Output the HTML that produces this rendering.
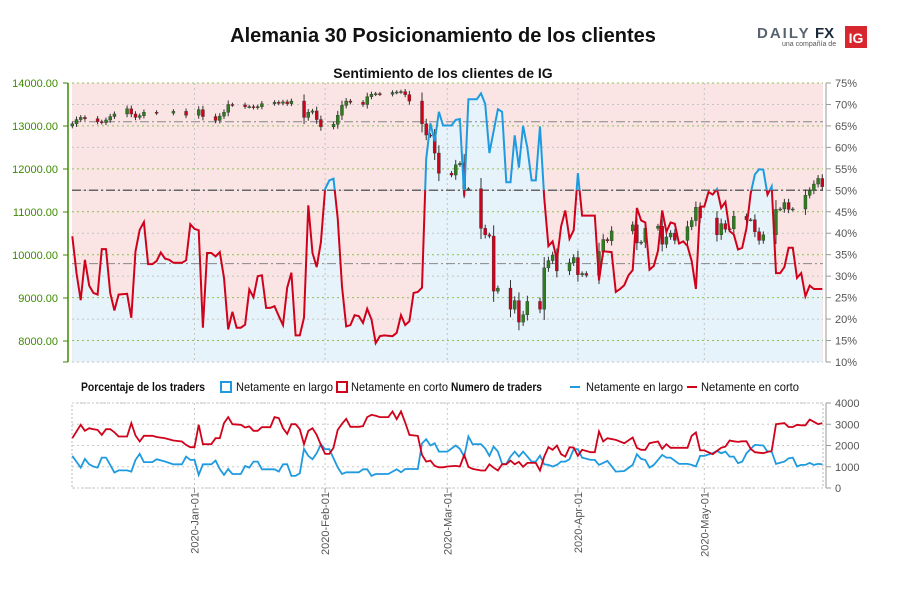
<!DOCTYPE html>
<html><head><meta charset="utf-8">
<style>
body{margin:0;background:#fff;}
svg{display:block;font-family:"Liberation Sans",sans-serif;}
</style></head>
<body>
<svg id="chart" width="900" height="600" viewBox="0 0 900 600">
<text x="443" y="42" text-anchor="middle" font-size="20" font-weight="bold" fill="#111">Alemania 30 Posicionamiento de los clientes</text>
<g>
<text x="757" y="38" font-size="15" font-weight="bold" fill="#5a6470" letter-spacing="2">DAILY</text>
<text x="815" y="38" font-size="15" font-weight="bold" fill="#1a2a3a">FX</text>
<text x="782" y="46" font-size="7" fill="#555">una compañía de</text>
<rect x="845" y="26" width="22" height="22" fill="#d8262e"/>
<text x="856" y="43" text-anchor="middle" font-size="14" font-weight="bold" fill="#fff">IG</text>
</g>
<text x="443" y="78" text-anchor="middle" font-size="14" font-weight="bold" fill="#111">Sentimiento de los clientes de IG</text>
<g id="main"></g>
<g id="legend">
<text x="81" y="391" font-size="12" font-weight="bold" fill="#111" textLength="124" lengthAdjust="spacingAndGlyphs">Porcentaje de los traders</text>
<rect x="221" y="382" width="10" height="10" fill="#fff" stroke="#1e9be0" stroke-width="2"/>
<text x="236" y="391" font-size="12" fill="#111" textLength="97" lengthAdjust="spacingAndGlyphs">Netamente en largo</text>
<rect x="337" y="382" width="10" height="10" fill="#fff" stroke="#d0021b" stroke-width="2"/>
<text x="351" y="391" font-size="12" fill="#111" textLength="97" lengthAdjust="spacingAndGlyphs">Netamente en corto</text>
<text x="451" y="391" font-size="12" font-weight="bold" fill="#111" textLength="91" lengthAdjust="spacingAndGlyphs">Numero de traders</text>
<line x1="570" y1="387" x2="580" y2="387" stroke="#1e9be0" stroke-width="2"/>
<text x="586" y="391" font-size="12" fill="#111" textLength="97" lengthAdjust="spacingAndGlyphs">Netamente en largo</text>
<line x1="687" y1="387" x2="697" y2="387" stroke="#d0021b" stroke-width="2"/>
<text x="701" y="391" font-size="12" fill="#111" textLength="98" lengthAdjust="spacingAndGlyphs">Netamente en corto</text>
</g>
<g id="lower"></g>
</svg>
<script>
// ---- data ----
const sentDays=[0,1,2,3,4,5,6,7,8,9,10,11,13,14,15,16,17,18,19,20,21,22,23,24,26,27,28,29,30,31,32,33,34,35,36,37,38,39,40,41,42,43,44,45,46,47,48,49,50,51,52,53,54,55,56,57,58,59,60,61,62,63,64,65,66,67,68,69,70,71,72,73,74,76,77,78,79,80,81,82,83,84,85,86,87,88,90,91,92,93,94,96,97,98,99,101,102,103,104,105,106,107,108,109,110,111,112,113,114,115,116,117,118,119,120,121,122,124,125,126,128,129,130,131,132,133,134,135,136,137,138,139,140,141,142,143,144,145,146,147,148,149,150,151,152,153,154,155,156,157,158,159,160,161,162,163,164,165,166,167,168,169,170,171,172,173,174,175,176,178];
const sentLong=[39.3,30.7,24.4,33.8,27.8,26.1,25.7,36.3,36.3,26.1,22,25.7,25.9,20.3,35.8,40.8,42.6,32.8,32.8,33.5,35.5,34.1,33.8,33.1,33.1,33.7,42.1,41,40.7,18,35.4,35.4,34.6,35.6,29.6,17.6,21.7,18,18,18.7,26.9,25.1,30,30.2,22.6,22.6,23,20.7,18.6,27.3,30.8,16.2,16.2,20.3,46.5,35.4,32.1,37.9,50.3,52.3,52.7,43.5,27.6,18.3,18.6,20.9,20.7,19.1,22.4,19.9,14.4,16,16.2,16,16.8,20.9,18.6,19.5,26.1,26.3,27.3,57.3,65.6,61.4,68.3,65.1,65.1,66.4,66.6,48.6,71.2,71.2,72.6,70.1,58.7,68.9,68.3,51.9,51.9,62.8,55.3,65,59.8,52.3,52.3,64.9,48.3,37,38.1,33.8,41.6,45.3,38.7,40.7,54,44.1,44.1,44.1,29,35.8,35.6,26.3,27,27.9,30.2,31.4,45.9,43,42.5,31.5,32.4,35.9,45.3,40.3,42.5,42.2,37.6,38.1,37,33.5,27,46.2,46.2,49.6,49,50.3,45.9,47.3,40.5,39.7,36.2,36.6,41.2,49.3,53.7,54.9,54.8,49,50.9,30.7,30.7,32.1,36.6,36.6,29.6,30.7,25.3,27.8,27,27];
const decCloses=[13050,13150,13200,13170,13100,13080,13140,13220,13280,13400,13280,13200,13240,13320,13300,13340,13250];
const janCloses=[13380,13220,13130,13230,13320,13500,13490,13450,13450,13430,13450,13520,13550,13530,13560,13520,13580,13200,13320,13350,13150,12980];
const febCloses=[13040,13250,13480,13580,13550,13500,13680,13740,13750,13740,13780,13790,13800,13730,13580,13050,12790,12770,12370,11900];
const marCloses=[11860,12100,12130,11540,11540,10620,10470,10440,9160,9230,8740,8940,8440,8610,8920,8740,9700,9870,10000,9630,9820,9940];
const aprCloses=[9540,9570,9530,10080,10360,10330,10560,10700,10280,10300,10620,10670,10250,10420,10510,10340,10660,10800,11110,10860];
const mayCloses=[10470,10730,10600,10610,10900,10820,10820,10540,10340,10470,11060,11070,11220,11060,11070,11390,11500,11650,11780,11590];
const holidays=[21,22,23,28,29,129,132,150];
const cntDays=[0,2,3,4,5,6,7,8,9,10,11,13,14,15,16,17,19,20,22,24,26,27,28,29,30,31,33,34,35,36,37,38,40,41,42,43,44,45,47,48,49,50,51,52,53,54,55,56,57,58,59,60,61,62,63,64,65,66,68,69,70,71,72,73,75,76,77,78,79,80,82,83,84,85,86,87,88,89,91,92,93,94,95,97,98,99,100,101,102,103,104,105,106,107,108,109,110,111,112,113,114,115,116,117,118,119,120,121,123,124,125,126,127,129,131,133,134,135,136,137,138,139,140,141,142,144,146,147,148,149,150,152,153,154,155,156,157,158,159,160,161,162,164,165,166,167,169,170,171,172,173,174,175,176,177,178];
const cntLong=[1510,958,1370,1117,1010,958,1432,1432,1086,723,830,830,770,1322,1604,1218,1218,1353,1245,1117,1117,1480,1322,1322,615,1117,1117,1290,895,615,895,660,660,1033,958,1243,1243,880,880,880,770,1117,1117,569,569,690,1840,1510,1353,1636,2062,1825,1825,1400,975,660,740,740,740,880,880,569,660,660,660,770,880,740,895,895,895,2100,2297,1998,2110,1715,1715,1715,1998,1840,1480,2423,2062,2062,1857,1510,1951,1715,1133,1133,1480,1715,1480,1715,1480,1243,1243,1526,1117,1086,1010,1086,1243,1243,1353,1825,1825,1432,1322,1322,1086,1180,1275,770,800,1086,1589,1370,1322,958,1086,1322,1557,1432,1432,1133,1133,1086,1010,1510,1510,1636,1746,1636,1715,1480,1480,1165,1243,1636,1840,2030,2000,1715,1715,1133,1243,1400,1432,1010,1086,1086,1180,1086,1133,1117];
const cntShort=[2345,2973,2690,2815,2765,2736,2500,2765,2765,2620,2422,2422,3052,2470,2187,2457,2457,2400,2345,2235,2187,2030,1920,1920,2973,2062,2062,2345,2345,3052,3336,3004,2973,2847,2900,2690,2690,2860,2860,3336,3289,2815,2548,3004,3004,2765,2062,2690,2815,2500,2030,1605,1605,1895,2736,3020,3257,2880,2880,2910,3336,3446,3400,3336,3336,3603,3242,3603,3084,2500,2450,1557,1242,1290,1038,975,975,1010,1038,1010,1557,1000,900,825,825,1117,955,825,1117,1117,1290,1117,1227,1000,1180,1180,1180,825,1480,1920,1800,1998,1589,1480,1920,1900,1510,1800,1683,1683,2658,2187,2343,2265,2110,2375,1890,1800,1800,2110,2150,2187,1840,2062,1890,1890,1890,2457,2610,1770,1770,1589,1746,1890,1950,2235,2200,2170,2200,2200,1840,1683,1636,1700,1750,3004,3052,2870,2870,2973,2950,2950,3225,3115,3004,3052];
const pctTicks=[75,70,65,60,55,50,45,40,35,30,25,20,15,10];
const priceTicks=[14000,13000,12000,11000,10000,9000,8000];
const cntTicks=[4000,3000,2000,1000,0];
const monthLabels=["2020-Jan-01","2020-Feb-01","2020-Mar-01","2020-Apr-01","2020-May-01"];
const monthDays=[29,60,89,120,150];

// ---- scales ----
const X0=72.3,X1=822.3,DMAX=178;
const xDay=d=>X0+d*(X1-X0)/DMAX;
const yPct=p=>83+(75-p)*(279/65);
const yPrice=v=>83+(14000-v)*0.043;
const yCnt=v=>488-v*0.02125;
const NS="http://www.w3.org/2000/svg";
function mk(tag,attrs,parent){const e=document.createElementNS(NS,tag);for(const k in attrs)e.setAttribute(k,attrs[k]);parent.appendChild(e);return e;}
const main=document.getElementById('main');
const lower=document.getElementById('lower');

const bg=mk('rect',{x:72,y:83,width:751,height:279,fill:'#fbe4e4'},main);


let ptsStr=sentDays.map((d,i)=>xDay(d).toFixed(1)+','+yPct(sentLong[i]).toFixed(1)).join(' ');
const area=mk('polygon',{points:xDay(sentDays[0])+',362 '+ptsStr+' '+xDay(sentDays[sentDays.length-1])+',362',fill:'#e6f3fb'},main);



pctTicks.forEach((p,i)=>{
  const y=yPct(p);
  const g=mk('line',{x1:72,x2:823,y1:y,y2:y,stroke:(i%2===0)?'#8fbf5a':'#c4c4c4','stroke-width':1,'stroke-dasharray':'2,3'},main);
  
  
});
monthDays.forEach(d=>{
  const g=mk('line',{x1:xDay(d),x2:xDay(d),y1:83,y2:362,stroke:'#c4c4c4','stroke-dasharray':'2,3'},main);
  
  
});
[[yPct(50),'#666',1.5],[yPrice(13100),'#888',1],[yPrice(9800),'#888',1]].forEach(r=>{
  const l=mk('line',{x1:72,x2:823,y1:r[0],y2:r[0],stroke:r[1],'stroke-width':r[2],'stroke-dasharray':'9,3,2,3'},main);
  
  
});

const defs=mk('defs',{},main);
const c1=mk('clipPath',{id:'above'},defs);mk('rect',{x:60,y:70,width:780,height:yPct(50)-70},c1);
const c2=mk('clipPath',{id:'below'},defs);mk('rect',{x:60,y:yPct(50),width:780,height:400},c2);

const allCloses=[decCloses,janCloses,febCloses,marCloses,aprCloses,mayCloses].flat();
const tradeDays=[];
for(let d=0;d<=DMAX&&tradeDays.length<allCloses.length;d++){const wd=(2+d)%7;if(wd===0||wd===6)continue;if(holidays.includes(d))continue;tradeDays.push(d);}
const cg=mk('g',{},main);


allCloses.forEach((c,i)=>{
  const o=i===0?13000:allCloses[i-1];
  const hi=Math.max(o,c)+Math.min(250,Math.abs(c-o)*0.3+40);
  const lo=Math.min(o,c)-Math.min(250,Math.abs(c-o)*0.3+40);
  const x=xDay(tradeDays[i]);
  const w=mk('line',{x1:x,x2:x,y1:yPrice(hi),y2:yPrice(lo),stroke:'#333','stroke-width':1},cg);
  
  
  const top=yPrice(Math.max(o,c)),bot=yPrice(Math.min(o,c));
  const r=mk('rect',{x:x-1.5,y:top,width:3,height:Math.max(1,bot-top),fill:c>=o?'#2e7d1f':'#d0021b',stroke:'#333','stroke-width':0.4},cg);
  
  
});

const lb=mk('polyline',{points:ptsStr,fill:'none',stroke:'#1e9be0','stroke-width':2,'clip-path':'url(#above)'},main);


const lr=mk('polyline',{points:ptsStr,fill:'none',stroke:'#d0021b','stroke-width':2,'clip-path':'url(#below)'},main);



const la=mk('line',{x1:68,x2:68,y1:83,y2:362,stroke:'#3d8a00','stroke-width':1.5},main);


priceTicks.forEach(v=>{
  const y=yPrice(v);
  mk('line',{x1:63,x2:68,y1:y,y2:y,stroke:'#3d8a00'},main);
  const t=mk('text',{x:58,y:y+4,'text-anchor':'end','font-size':11,fill:'#3d8a00'},main);
  t.textContent=v.toFixed(2);
  
  
});
mk('line',{x1:63,x2:68,y1:362,y2:362,stroke:'#3d8a00'},main);
const ra=mk('line',{x1:826,x2:826,y1:83,y2:362,stroke:'#999','stroke-width':1},main);


pctTicks.forEach(p=>{
  const y=yPct(p);
  mk('line',{x1:826,x2:831,y1:y,y2:y,stroke:'#999'},main);
  const t=mk('text',{x:835,y:y+4,'font-size':11,fill:'#555'},main);
  t.textContent=p+'%';
  
  
});

const lbx=mk('rect',{x:72,y:403,width:751,height:85,fill:'none',stroke:'#bbb','stroke-dasharray':'2,2'},lower);


cntTicks.forEach(v=>{
  const y=yCnt(v);
  const g=mk('line',{x1:72,x2:823,y1:y,y2:y,stroke:'#c8c8c8','stroke-dasharray':'2,3'},lower);
  
  
  mk('line',{x1:826,x2:831,y1:y,y2:y,stroke:'#999'},lower);
  const t=mk('text',{x:835,y:y+4,'font-size':11,fill:'#555'},lower);
  t.textContent=v;
  
  
});
mk('line',{x1:826,x2:826,y1:403,y2:488,stroke:'#999'},lower);
monthDays.forEach((d,i)=>{
  const x=xDay(d);
  const g=mk('line',{x1:x,x2:x,y1:403,y2:488,stroke:'#c8c8c8','stroke-dasharray':'2,3'},lower);
  
  
  mk('line',{x1:x,x2:x,y1:488,y2:493,stroke:'#999'},lower);
  const t=mk('text',{x:0,y:0,'font-size':11,fill:'#555','text-anchor':'end',transform:'translate('+(x+4)+',492) rotate(-90)'},lower);
  t.textContent=monthLabels[i];
  
  
});
const cb=mk('polyline',{points:cntDays.map((d,i)=>xDay(d).toFixed(1)+','+yCnt(cntLong[i]).toFixed(1)).join(' '),fill:'none',stroke:'#1e9be0','stroke-width':1.8},lower);


const cr=mk('polyline',{points:cntDays.map((d,i)=>xDay(d).toFixed(1)+','+yCnt(cntShort[i]).toFixed(1)).join(' '),fill:'none',stroke:'#d0021b','stroke-width':1.8},lower);


</script>
</body></html>
